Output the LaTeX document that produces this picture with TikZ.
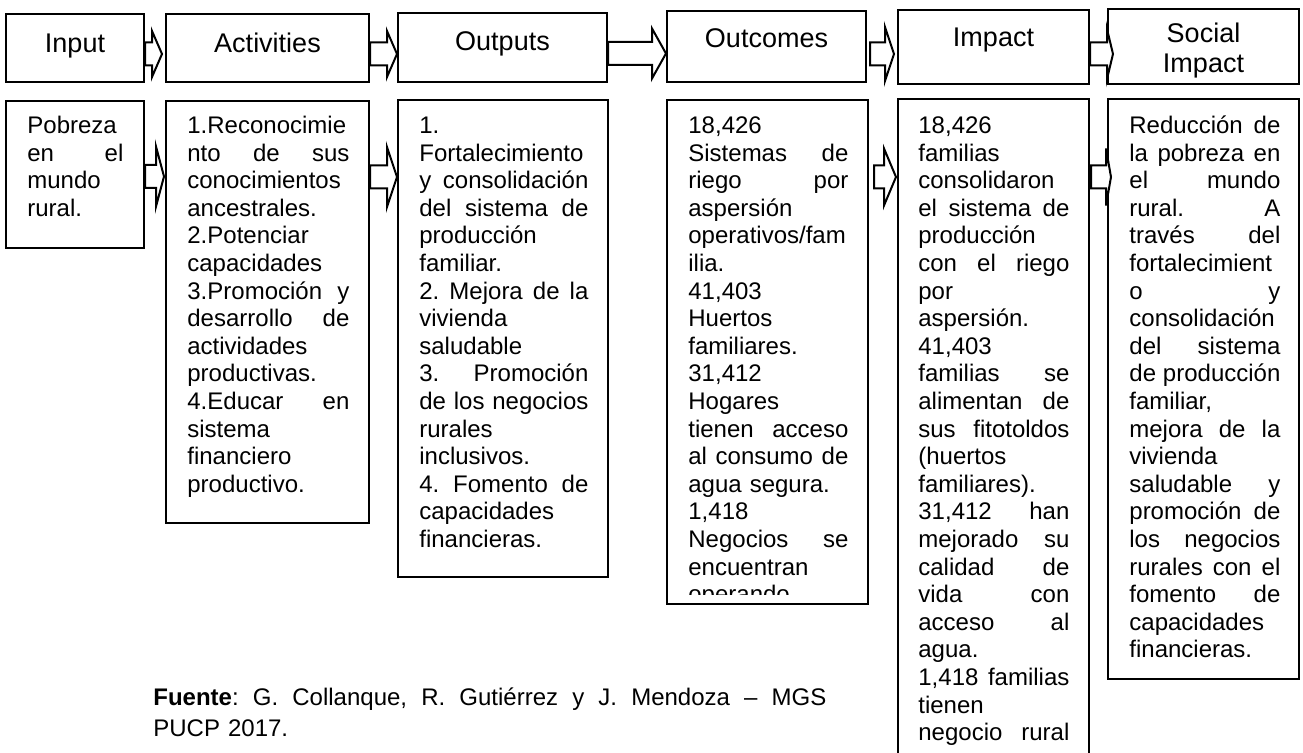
\documentclass[tikz,border=0pt]{standalone}
\usepackage{fontspec}
\setmainfont{Liberation Sans}
\usetikzlibrary{calc, fit}
\hyphenpenalty=10000
\exhyphenpenalty=10000
\frenchspacing
\newcommand{\jus}[1]{{\spaceskip=0pt\xspaceskip=0pt\makebox[\linewidth][s]{#1}}}
\newcommand{\flecha}[7]{%
  \draw[flecha] ($(#1.east |- 0,#3-11.5)+(#4,0)$)
    -- ($(#2.west |- 0,#3-11.5)+(#5-#6,0)$)
    -- ($(#2.west |- 0,#3-#7)+(#5-#6,0)$)
    -- ($(#2.west |- 0,#3)+(#5,0)$)
    -- ($(#2.west |- 0,#3+#7)+(#5-#6,0)$)
    -- ($(#2.west |- 0,#3+11.5)+(#5-#6,0)$)
    -- ($(#1.east |- 0,#3+11.5)+(#4,0)$) -- cycle;}
\begin{document}
\begin{tikzpicture}[x=0.5pt, y=-0.5pt,
  caja/.style={draw, line width=1pt, inner sep=0pt},
  titulo/.style={anchor=north, inner sep=0pt, align=center, font=\fontsize{13.5}{15}\selectfont, execute at begin node=\strut},
  texto/.style={anchor=north west, inner sep=0pt, align=left, font=\fontsize{12}{13.8}\selectfont, execute at begin node=\strut},
  flecha/.style={draw, line width=1pt, fill=white, line join=miter}]
\clip (0,0) rectangle (1303,753);

\node[caja, fit={(6,14) (144,82)}] (inp) {};
\node[caja, fit={(166,14) (369,82)}] (act) {};
\node[caja, fit={(398,13) (607,82)}] (outp) {};
\node[caja, fit={(667,11) (866,82)}] (outc) {};
\node[caja, fit={(898,10) (1089,84)}] (imp) {};
\node[caja, fit={(1108,9) (1299,84)}] (soc) {};

\node[titulo] (tinp) at (inp.north |- 0,31) {Input};
\node[titulo] (tact) at (act.north |- 0,31) {Activities};
\node[titulo] (toutp) at (outp.north |- 0,29) {Outputs};
\node[titulo] (toutc) at (outc.north |- 0,26) {Outcomes};
\node[titulo] (timp) at (imp.north |- 0,25) {Impact};
\node[titulo] (tsoc) at (soc.north |- 0,23) {Social\\ Impact};

\node[caja, fit={(6,101) (144,248)}] (inpb) {};
\node[caja, fit={(166,101) (369,523)}] (actb) {};
\node[caja, fit={(398,100) (608,577)}] (outpb) {};
\node[caja, fit={(667,100) (868,604)}] (outcb) {};
\node[caja, fit={(898,99) (1089,790)}] (impb) {};
\node[caja, fit={(1108,99) (1299,679)}] (socb) {};

\flecha{inp}{act}{54}{0}{-3}{10}{23}
\flecha{act}{outp}{54}{0}{0}{10}{23}
\flecha{outp}{outc}{53.5}{0}{0}{14}{25}
\flecha{outc}{imp}{54}{3}{-3}{9}{27}
\flecha{imp}{soc}{54}{0}{6}{6}{25}
\flecha{inpb}{actb}{176.5}{0}{-1}{8}{30}
\flecha{actb}{outpb}{177}{0}{0}{10}{30}
\flecha{outcb}{impb}{177}{5}{-1}{12}{28.5}
\flecha{impb}{socb}{177}{1}{4}{5}{28.5}

\node[texto, text width=48pt] (tinpb) at (27,113.7) {Pobreza\\ \jus{en el}\\ mundo\\ rural.};
\node[texto, text width=81pt] (tactb) at (187,113.7) {1.Reconocimie\\ \jus{nto de sus}\\ conocimientos\\ ancestrales.\\ 2.Potenciar\\ capacidades\\ \jus{3.Promoción y}\\ \jus{desarrollo de}\\ actividades\\ productivas.\\ \jus{4.Educar en}\\ sistema\\ financiero\\ productivo.};
\node[texto, text width=84.5pt] (toutpb) at (419,113.7) {1.\\ Fortalecimiento\\ \jus{y consolidación}\\ \jus{del sistema de}\\ producción\\ familiar.\\ \jus{2. Mejora de la}\\ vivienda\\ saludable\\ \jus{3. Promoción}\\ \jus{de los negocios}\\ rurales\\ inclusivos.\\ \jus{4. Fomento de}\\ capacidades\\ financieras.};
\begin{scope}
\clip (outcb.north west) rectangle ($(outcb.south east)+(0,-10)$);
\node[texto, text width=80pt] (toutcb) at (688,113.7) {18,426\\ \jus{Sistemas de}\\ \jus{riego por}\\ aspersión\\ operativos/fam\\ ilia.\\ 41,403\\ Huertos\\ familiares.\\ 31,412\\ Hogares\\ \jus{tienen acceso}\\ \jus{al consumo de}\\ agua segura.\\ 1,418\\ \jus{Negocios se}\\ encuentran\\ operando};
\end{scope}
\node[texto, text width=75.5pt] (timpb) at (918,113.7) {18,426\\ familias\\ consolidaron\\ \jus{el sistema de}\\ producción\\ \jus{con el riego}\\ por\\ aspersión.\\ 41,403\\ \jus{familias se}\\ \jus{alimentan de}\\ \jus{sus fitotoldos}\\ (huertos\\ familiares).\\ \jus{31,412 han}\\ \jus{mejorado su}\\ \jus{calidad de}\\ \jus{vida con}\\ \jus{acceso al}\\ agua.\\ \jus{1,418 familias}\\ tienen\\ \jus{negocio rural}};
\node[texto, text width=75.5pt] (tsocb) at (1129,113.7) {\jus{Reducción de}\\ \jus{la pobreza en}\\ \jus{el mundo}\\ \jus{rural. A}\\ \jus{través del}\\ fortalecimient\\ \jus{o y}\\ consolidación\\ \jus{del sistema}\\ \jus{de producción}\\ familiar,\\ \jus{mejora de la}\\ vivienda\\ \jus{saludable y}\\ \jus{promoción de}\\ \jus{los negocios}\\ \jus{rurales con el}\\ \jus{fomento de}\\ capacidades\\ financieras.};

\node[texto, font=\fontsize{12}{15.5}\selectfont, text width=336.5pt] (fuente) at (153,683.3) {\jus{\textbf{Fuente}: G. Collanque, R. Gutiérrez y J. Mendoza – MGS}\\ PUCP 2017.};
\end{tikzpicture}
\end{document}
